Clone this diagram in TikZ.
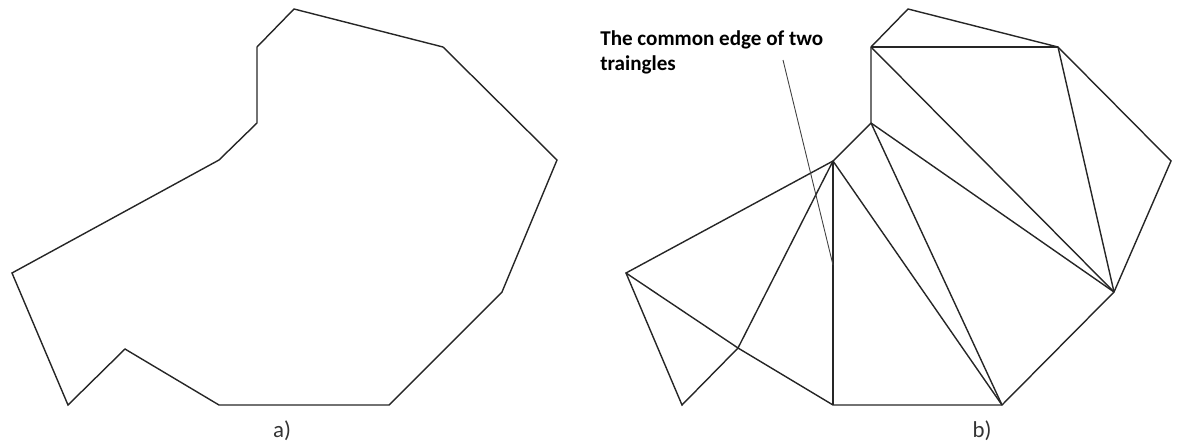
\documentclass[tikz,border=0pt]{standalone}
\usepackage{fontspec}
\setmainfont{Carlito}
\usetikzlibrary{positioning}
\tikzset{
    poly/.style={
        draw=black!85,
        line width=0.8pt,
        line join=miter
    },
    leader/.style={
        draw=black!75,
        line width=0.5pt
    },
    caption/.style={
        font=\fontsize{13}{15}\selectfont,
        text=black!80
    }
}

\begin{document}
\begin{tikzpicture}[
    x=0.02cm,
    y=-0.02cm
]

    \useasboundingbox (0,0) rectangle (1177,443);

    % Poligono a)
    \coordinate (a1)  at (294,9);
    \coordinate (a2)  at (443,47);
    \coordinate (a3)  at (557,160);
    \coordinate (a4)  at (502,292);
    \coordinate (a5)  at (389,405);
    \coordinate (a6)  at (219,405);
    \coordinate (a7)  at (125,349);
    \coordinate (a8)  at (68,405);
    \coordinate (a9)  at (12,273);
    \coordinate (a10) at (219,160);
    \coordinate (a11) at (257,123);
    \coordinate (a12) at (257,47);

    \draw[poly] (a1) -- (a2) -- (a3) -- (a4) -- (a5) -- (a6)
        -- (a7) -- (a8) -- (a9) -- (a10) -- (a11) -- (a12) -- cycle;

    % Poligono b)
    \coordinate (b1)  at (908,9);
    \coordinate (b2)  at (1058,47);
    \coordinate (b3)  at (1171,161);
    \coordinate (b4)  at (1114,292);
    \coordinate (b5)  at (1002,405);
    \coordinate (b6)  at (833,405);
    \coordinate (b7)  at (738,348);
    \coordinate (b8)  at (682,405);
    \coordinate (b9)  at (626,273);
    \coordinate (b10) at (833,161);
    \coordinate (b11) at (871,123);
    \coordinate (b12) at (871,47);

    \draw[poly] (b1) -- (b2) -- (b3) -- (b4) -- (b5) -- (b6)
        -- (b7) -- (b8) -- (b9) -- (b10) -- (b11) -- (b12) -- cycle;

    % Diagonales
    \path[poly]
        (b12)
            edge (b2)
            edge (b4)
        (b2)
            edge (b4)
        (b11)
            edge (b4)
            edge (b5)
        (b10)
            edge (b5)
            edge (b6)
            edge (b7)
        (b9)
            edge (b7);

    % Etiqueta
    \node[anchor=north west, align=left, inner sep=0pt,
          font=\bfseries\fontsize{12}{14.6}\selectfont] (lbl) at (600,30)
        {The common edge of two\\traingles};
    \coordinate (lstart) at (783,60);
    \coordinate (lend)   at (833,265);
    \draw[leader] (lstart) -- (lend);

    % Subtitulos
    \node[caption] (capa) at (282,431) {a)};
    \node[caption] (capb) at (982,431) {b)};

\end{tikzpicture}
\end{document}
